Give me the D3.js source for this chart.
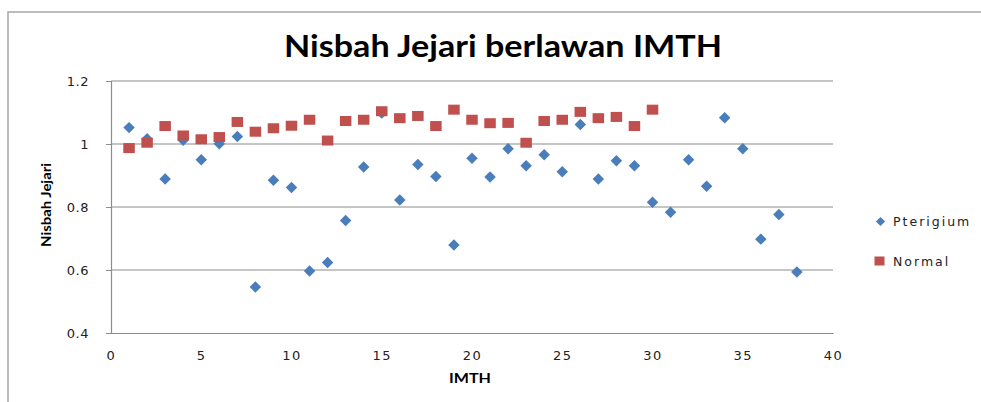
<!DOCTYPE html>
<html>
<head>
<meta charset="utf-8">
<script src="https://cdn.jsdelivr.net/npm/d3@7"></script>
<style>
  html, body { margin: 0; padding: 0; background: #fff; }
  svg { display: block; }
</style>
</head>
<body>
<svg id="chart" width="981" height="402"></svg>
<script>
// ---- data ----
const title = "Nisbah Jejari berlawan IMTH";
const xLabel = "IMTH";
const yLabel = "Nisbah Jejari";
const seriesNames = ["Pterigium", "Normal"];
const pterigiumX = [1,2,3,4,5,6,7,8,9,10,11,12,13,14,15,16,17,18,19,20,21,22,23,24,25,26,27,28,29,30,31,32,33,34,35,36,37,38];
const pterigiumY = [1.052,1.017,0.889,1.012,0.950,1.001,1.024,0.546,0.885,0.862,0.597,0.624,0.757,0.927,1.098,0.822,0.935,0.897,0.679,0.955,0.895,0.985,0.931,0.966,0.912,1.062,0.889,0.947,0.931,0.815,0.783,0.950,0.866,1.083,0.985,0.698,0.776,0.594];
const normalX = [1,2,3,4,5,6,7,8,9,10,11,12,13,14,15,16,17,18,19,20,21,22,23,24,25,26,27,28,29,30];
const normalY = [0.987,1.004,1.057,1.027,1.015,1.022,1.070,1.039,1.050,1.058,1.077,1.011,1.073,1.077,1.104,1.082,1.089,1.057,1.109,1.077,1.066,1.067,1.004,1.073,1.077,1.102,1.082,1.086,1.057,1.109];
const xTicks = [0,5,10,15,20,25,30,35,40];
const yTicks = [0.4,0.6,0.8,1,1.2];
const yTickLabels = ["0.4","0.6","0.8","1","1.2"];

// ---- layout ----
const svg = d3.select("#chart");
const colors = { pterigium: "#4A7EBB", normal: "#C0504D", grid: "#8c8c8c", frame: "#a6a6a6" };

svg.append("rect")
  .attr("x", 8).attr("y", 12).attr("width", 1000).attr("height", 420)
  .attr("fill", "#fff").attr("stroke", colors.frame).attr("stroke-width", 1.5);

const x = d3.scaleLinear().domain([0, 40]).range([111, 833]);
const y = d3.scaleLinear().domain([0.4, 1.2]).range([333, 81]);

// gridlines
svg.append("g").selectAll("line").data(yTicks.slice(1)).join("line")
  .attr("x1", x(0)).attr("x2", x(40))
  .attr("y1", d => y(d)).attr("y2", d => y(d))
  .attr("stroke", colors.grid).attr("stroke-width", 1.2);

// y axis
const yAxis = svg.append("g").attr("transform", `translate(${x(0)},0)`)
  .call(d3.axisLeft(y).tickValues(yTicks).tickSize(5).tickPadding(17)
        .tickFormat((d, i) => yTickLabels[i]));
yAxis.select(".domain").attr("stroke", colors.grid).attr("stroke-width", 1.2);
yAxis.selectAll(".tick line").attr("stroke", colors.grid);
yAxis.selectAll("text").attr("font-family", "DejaVu Sans").attr("font-size", 13)
  .attr("fill", "#222").attr("letter-spacing", 0.5);

// x axis
const xAxis = svg.append("g").attr("transform", `translate(0,${y(0.4)})`)
  .call(d3.axisBottom(x).tickValues(xTicks).tickSize(0).tickPadding(17.5));
xAxis.select(".domain").attr("stroke", colors.grid).attr("stroke-width", 1.2);
xAxis.selectAll("text").attr("font-family", "DejaVu Sans").attr("font-size", 13)
  .attr("fill", "#222").attr("letter-spacing", 1.5);

// markers
const diamond = d3.symbol(d3.symbolSquare, 66);
const sqW = 11.5, sqH = 10;

svg.append("g").selectAll("path").data(pterigiumX.map((v, i) => [v, pterigiumY[i]])).join("path")
  .attr("d", diamond)
  .attr("transform", d => `translate(${x(d[0])},${y(d[1])}) rotate(45)`)
  .attr("fill", colors.pterigium);

svg.append("g").selectAll("rect").data(normalX.map((v, i) => [v, normalY[i]])).join("rect")
  .attr("x", d => x(d[0]) - sqW / 2).attr("y", d => y(d[1]) - sqH / 2)
  .attr("width", sqW).attr("height", sqH)
  .attr("fill", colors.normal);

// title
svg.append("text")
  .attr("x", 503).attr("y", 57).attr("text-anchor", "middle")
  .attr("font-family", "Lato").attr("font-weight", "bold").attr("font-size", 31)
  .attr("textLength", 438).attr("lengthAdjust", "spacingAndGlyphs")
  .attr("fill", "#000").text(title);

// axis titles
svg.append("text")
  .attr("transform", "translate(51,205) rotate(-90)")
  .attr("text-anchor", "middle")
  .attr("font-family", "Lato").attr("font-weight", "bold").attr("font-size", 13)
  .attr("textLength", 84).attr("lengthAdjust", "spacingAndGlyphs")
  .attr("fill", "#000").text(yLabel);

svg.append("text")
  .attr("x", 470).attr("y", 383).attr("text-anchor", "middle")
  .attr("font-family", "Lato").attr("font-weight", "bold").attr("font-size", 13)
  .attr("textLength", 42).attr("lengthAdjust", "spacingAndGlyphs")
  .attr("fill", "#000").text(xLabel);

// legend
const legend = svg.append("g");
legend.append("path").attr("d", d3.symbol(d3.symbolSquare, 42))
  .attr("transform", "translate(880.5,221.5) rotate(45)").attr("fill", colors.pterigium);
legend.append("rect").attr("x", 874.5).attr("y", 256.5).attr("width", 10).attr("height", 9)
  .attr("fill", colors.normal);
legend.selectAll("text.leg").data(seriesNames).join("text")
  .attr("class", "leg")
  .attr("x", 893).attr("y", (d, i) => [226, 265.5][i])
  .attr("font-family", "DejaVu Sans").attr("font-size", 12.5)
  .attr("letter-spacing", 2).attr("fill", "#222").text(d => d);
</script>
</body>
</html>
